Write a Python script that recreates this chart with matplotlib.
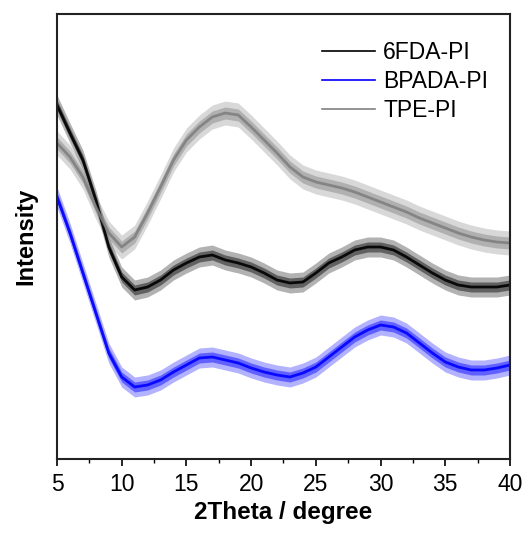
import matplotlib
matplotlib.use("Agg")
import matplotlib.pyplot as plt
import numpy as np

plt.rcParams['font.family'] = ['Liberation Sans', 'DejaVu Sans']

two_theta = [5, 6, 7, 8, 9, 10, 11, 12, 13, 14, 15, 16, 17, 18, 19, 20, 21, 22,
             23, 24, 25, 26, 27, 28, 29, 30, 31, 32, 33, 34, 35, 36, 37, 38, 39, 40]

fda_6 = [354, 326, 299, 259, 212, 182, 169, 172, 179, 189, 196, 202, 204, 199, 196, 192, 186, 179,
         176, 177, 186, 196, 202, 209, 212, 212, 209, 202, 194, 186, 179, 174, 172, 172, 172, 174]
bpada = [262, 226, 186, 146, 106, 82, 72, 74, 79, 87, 94, 101, 102, 99, 96, 91, 87, 84,
         82, 86, 92, 102, 112, 122, 129, 134, 132, 126, 116, 106, 97, 92, 89, 89, 91, 94]
tpe = [316, 302, 282, 252, 226, 212, 222, 246, 272, 299, 319, 332, 342, 346, 344, 332, 319, 306,
       292, 282, 277, 274, 271, 267, 262, 257, 252, 247, 241, 236, 231, 226, 222, 219, 217, 216]

# approximate noise half-width (same units as intensity)
noise_6fda = 10
noise_bpada = 10
noise_tpe = 12

labels = ['6FDA-PI', 'BPADA-PI', 'TPE-PI']

fig = plt.figure(figsize=(5.28, 5.38), dpi=100)
ax = fig.add_axes([57/528, 1 - 459/538, (510-57)/528, (459-14)/538])

series = [(fda_6, noise_6fda, '#000000'), (bpada, noise_bpada, '#0000ff'), (tpe, noise_tpe, '#808080')]
x = np.array(two_theta)
for (vals, nz, col), lab in zip(series, labels):
    v = np.array(vals)
    ax.fill_between(x, v - nz, v + nz, color=col, alpha=0.3, lw=0)
    ax.fill_between(x, v - nz * 0.5, v + nz * 0.5, color=col, alpha=0.45, lw=0)
    ax.plot(x, v, color=col, lw=2.0, alpha=0.9)
    ax.plot([], [], color=col, lw=1.2, label=lab)

ax.set_xlim(5, 40)
ax.set_ylim(0, 445)
ax.set_xticks([5, 10, 15, 20, 25, 30, 35, 40])
ax.set_xticks(np.arange(7.5, 40, 5), minor=True)
ax.set_yticks([])
ax.tick_params(axis='x', which='major', direction='out', length=5, width=1.2, labelsize=16.5, pad=5)
ax.tick_params(axis='x', which='minor', direction='out', length=3, width=1.0)
for s in ax.spines.values():
    s.set_linewidth(1.5)
    s.set_color('#222222')

ax.set_xlabel('2Theta / degree', fontsize=17.5, fontweight='bold', labelpad=4)
ax.set_ylabel('Intensity', fontsize=17, fontweight='bold', labelpad=14)

ax.legend(loc='upper right', frameon=False, fontsize=16.5, handlelength=2.3,
          handletextpad=0.35, labelspacing=0.25, bbox_to_anchor=(0.997, 0.985))

fig.savefig('out.png', dpi=100)
